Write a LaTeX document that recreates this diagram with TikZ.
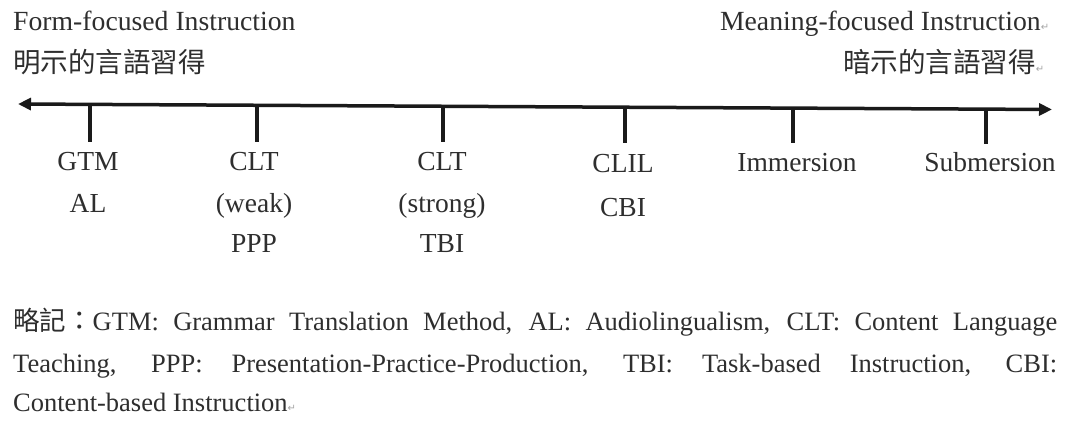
\documentclass[tikz,border=0pt]{standalone}
\usepackage{fontspec}
\setmainfont{Liberation Serif}
\newfontfamily\cjk{Noto Sans CJK TC}
\newfontfamily\dv{DejaVu Sans}
\usetikzlibrary{arrows.meta}
\definecolor{ink}{HTML}{2E2E2E}
\definecolor{linec}{HTML}{1A1A1A}
\newcommand\retm{{\dv\fontsize{10}{10}\selectfont\color{gray!70}↵}}
\begin{document}
\begin{tikzpicture}[x=1pt,y=-1pt,
  txt/.style={inner sep=0pt, text=ink, font=\fontsize{27.5}{30}\selectfont},
  head/.style={txt, font=\fontsize{27.7}{30}\selectfont},
  cj/.style={inner sep=0pt, text=ink, font=\cjk\fontsize{27.5}{30}\selectfont},
  lab/.style={txt, anchor=base},
  axisline/.style={draw=linec, line width=3.5pt, {Triangle[length=13pt,width=12pt]}-{Triangle[length=13pt,width=12pt]}},
  tickline/.style={draw=linec, line width=4pt},
  foot/.style={txt, anchor=base west, font=\fontsize{26.5}{30}\selectfont}]
\useasboundingbox[fill=white] (0,0) rectangle (1070,438);
% headings
\node[head, anchor=base west] (ff) at (13,31) {Form-focused Instruction};
\node[cj, anchor=base west] (ffc) at (13,73) {明示的言語習得};
\node[head, anchor=base east] (mf) at (1041,31) {Meaning-focused Instruction\rlap{\retm}};
\node[cj, anchor=base east] (mfc) at (1036,73) {暗示的言語習得\rlap{\retm}};
% axis
\coordinate (L) at (18,104);
\coordinate (R) at (1052,109.5);
\draw[axisline] (L) -- (R);
% ticks
\coordinate (t1) at (90,104.4);  \coordinate (b1) at (90,142);
\coordinate (t2) at (257,105.3); \coordinate (b2) at (257,142);
\coordinate (t3) at (443,106.3); \coordinate (b3) at (443,142);
\coordinate (t4) at (625,107.2); \coordinate (b4) at (625,143);
\coordinate (t5) at (793,108.1); \coordinate (b5) at (793,143);
\coordinate (t6) at (986,109.2); \coordinate (b6) at (986,144);
\foreach \i in {1,...,6} {\draw[tickline] (t\i) -- (b\i);}
% labels
\node[lab] (gtm) at (88,171) {GTM};
\node[lab] (al) at (88,213) {AL};
\node[lab] (cltw) at (254,171) {CLT};
\node[lab] (weak) at (254,213) {(weak)};
\node[lab] (ppp) at (254,252) {PPP};
\node[lab] (clts) at (442,171) {CLT};
\node[lab] (strong) at (442,213) {(strong)};
\node[lab] (tbi) at (442,252) {TBI};
\node[lab] (clil) at (623,173) {CLIL};
\node[lab] (cbi) at (623,217) {CBI};
\node[lab] (imm) at (797,172) {Immersion};
\node[lab] (sub) at (990,172) {Submersion};
% footnote
\node[foot] (n1) at (13,330) {\makebox[1044pt][s]{{\cjk 略記：}GTM: Grammar Translation Method, AL: Audiolingualism, CLT: Content Language}};
\node[foot] (n2) at (13,372) {\makebox[1044pt][s]{Teaching, PPP: Presentation-Practice-Production, TBI: Task-based Instruction, CBI:}};
\node[foot] (n3) at (13,411) {Content-based Instruction\retm};
\end{tikzpicture}
\end{document}
